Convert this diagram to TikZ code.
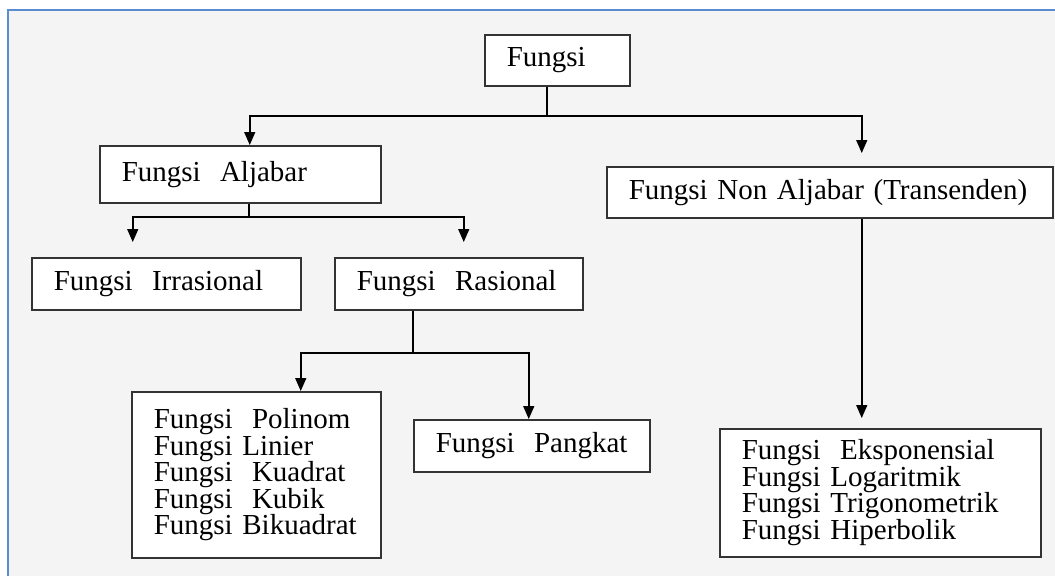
\documentclass[tikz,border=0pt]{standalone}
\usepackage{fontspec}
\setmainfont{Liberation Serif}
\usetikzlibrary{arrows.meta, positioning}
\definecolor{frameblue}{RGB}{91,139,208}
\definecolor{paper}{RGB}{244,244,244}
\tikzset{
    box/.style={
        rectangle,
        draw=black!80,
        line width=1.5pt,
        fill=white,
        anchor=north west,
        inner xsep=22pt,
        inner ysep=0pt,
        align=left,
        font=\fontsize{29}{26.5}\selectfont,
        text width=#1
    },
    arrow/.style={
        -{Triangle[length=13pt,width=11pt]},
        line width=1.5pt
    },
    link/.style={
        line width=1.5pt
    }
}
\begin{document}
\begin{tikzpicture}[x=1pt, y=-1pt]
            \useasboundingbox (0,0) rectangle (1055,576);
            \fill[paper] (8,10) rectangle (1055,576);
            \draw[frameblue, line width=2pt] (8,576) -- (8,10) -- (1055,10);

            \node[box=101pt, minimum height=51pt] (fungsi)       at (484,34)  {Fungsi};
            \node[box=237pt, minimum height=57pt] (aljabar)      at (99,145)  {Fungsi\ \ Aljabar};
            \node[box=402pt, minimum height=51pt] (nonaljabar)   at (606,166) {Fungsi Non Aljabar (Transenden)};
            \node[box=225pt, minimum height=52pt] (irrasional)   at (31,257)  {Fungsi\ \ Irrasional};
            \node[box=204pt, minimum height=52pt] (rasional)     at (334,257) {Fungsi\ \ Rasional};
            \node[box=205pt, minimum height=166pt] (polinom)     at (131,391) {Fungsi\ \ Polinom\\Fungsi Linier\\Fungsi\ \ Kuadrat\\Fungsi\ \ Kubik\\Fungsi Bikuadrat};
            \node[box=192pt, minimum height=52pt] (pangkat)      at (413,419) {Fungsi\ \ Pangkat};
            \node[box=277pt, minimum height=128pt] (eksponensial) at (719,428) {Fungsi\ \ Eksponensial\\Fungsi Logaritmik\\Fungsi Trigonometrik\\Fungsi Hiperbolik};

            \coordinate (f0) at (547,116);
            \coordinate (f1) at (249,217);
            \coordinate (f2) at (413,353);

            \draw[link] (fungsi.south -| f0) -- (f0);
            \draw[arrow] (f0) -| ([xshift=9.5pt]aljabar.north);
            \draw[arrow, shorten >=13pt] (f0) -| ([xshift=32pt]nonaljabar.north);

            \draw[link] (aljabar.south -| f1) -- (f1);
            \draw[arrow, shorten >=15pt] (f1) -| ([xshift=-33.5pt]irrasional.north);
            \draw[arrow, shorten >=15pt] (f1) -| ([xshift=5pt]rasional.north);

            \draw[link] (rasional.south -| f2) -- (f2);
            \draw[arrow] (f2) -| ([xshift=-3pt]pangkat.north);
            \draw[arrow] (f2) -| ([xshift=44.5pt]polinom.north);

            \draw[arrow, shorten >=10pt] ([xshift=32pt]nonaljabar.south) -- ([xshift=-18.5pt]eksponensial.north);
        \end{tikzpicture}
\end{document}
